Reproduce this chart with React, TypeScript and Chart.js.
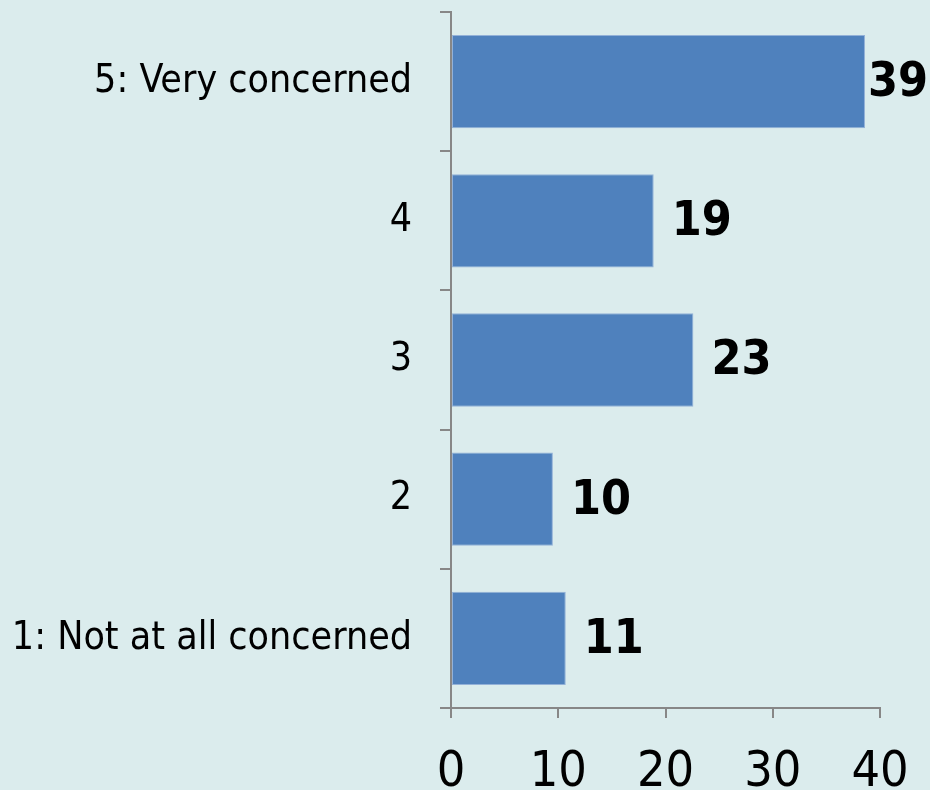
import React, { useEffect, useRef } from "react";
import { Chart, registerables } from "chart.js";

Chart.register(...registerables);

const categories = ["5: Very concerned", "4", "3", "2", "1: Not at all concerned"];
const values = [38.6, 18.9, 22.6, 9.5, 10.7];
const valueLabels = ["39", "19", "23", "10", "11"];
const xTicks = [0, 10, 20, 30, 40];

const BG = "#dbeced";
const BAR = "#4f81bd";
const AXIS = "#878787";
const FONT = "'DejaVu Sans Condensed', 'DejaVu Sans', sans-serif";

const valueLabelPlugin = {
  id: "valueLabels",
  afterDatasetsDraw(chart: any) {
    const { ctx } = chart;
    const meta = chart.getDatasetMeta(0);
    ctx.save();
    ctx.font = `bold 48px ${FONT}`;
    ctx.fillStyle = "#000";
    ctx.textBaseline = "middle";
    ctx.textAlign = "left";
    meta.data.forEach((bar: any, i: number) => {
      const text = valueLabels[i];
      const w = ctx.measureText(text).width;
      let x = bar.x + 18;
      if (x + w > chart.width - 2) x = chart.width - 2 - w;
      ctx.fillText(text, x, bar.y + 2);
    });
    ctx.restore();
  },
};

const bgPlugin = {
  id: "bg",
  beforeDraw(chart: any) {
    const { ctx } = chart;
    ctx.save();
    ctx.fillStyle = BG;
    ctx.fillRect(0, 0, chart.width, chart.height);
    ctx.restore();
  },
};

export default function App() {
  const ref = useRef<HTMLCanvasElement>(null);
  useEffect(() => {
    document.body.style.margin = "0";
    document.body.style.background = BG;
    const chart = new Chart(ref.current!, {
      type: "bar",
      data: {
        labels: categories,
        datasets: [
          {
            data: values,
            backgroundColor: BAR,
            borderColor: "#93b1d8",
            borderWidth: 1,
            borderSkipped: false,
            categoryPercentage: 1,
            barPercentage: 0.67,
          },
        ],
      },
      options: {
        indexAxis: "y",
        animation: false,
        responsive: false,
        maintainAspectRatio: false,
        layout: { padding: { top: 12, right: 50, left: 0, bottom: 0 } },
        plugins: { legend: { display: false }, tooltip: { enabled: false } },
        scales: {
          x: {
            min: 0,
            max: 40,
            afterBuildTicks: (scale: any) => {
              scale.ticks = xTicks.map((v) => ({ value: v }));
            },
            afterFit: (scale: any) => {
              scale.height = 82;
              scale.paddingLeft = 0;
              scale.paddingRight = 0;
              scale.paddingTop = 0;
              scale.paddingBottom = 0;
            },
            grid: {
              drawOnChartArea: false,
              drawTicks: true,
              tickLength: 10,
              color: AXIS,
              lineWidth: 2,
            },
            border: { display: true, color: AXIS, width: 2 },
            ticks: {
              color: "#000",
              font: { family: FONT, size: 50 },
              padding: 25,
              maxRotation: 0,
            },
          },
          y: {
            afterFit: (scale: any) => {
              scale.width = 451;
              scale.paddingLeft = 0;
              scale.paddingRight = 0;
              scale.paddingTop = 0;
              scale.paddingBottom = 0;
            },
            grid: {
              offset: true,
              drawOnChartArea: false,
              drawTicks: true,
              tickLength: 11,
              color: AXIS,
              lineWidth: 2,
            },
            border: { display: true, color: AXIS, width: 2 },
            ticks: {
              color: "#000",
              font: { family: FONT, size: 39 },
              padding: 28,
            },
          },
        },
      },
      plugins: [bgPlugin, valueLabelPlugin],
    });
    return () => chart.destroy();
  }, []);
  return <canvas ref={ref} width={930} height={790} style={{ display: "block" }} />;
}
